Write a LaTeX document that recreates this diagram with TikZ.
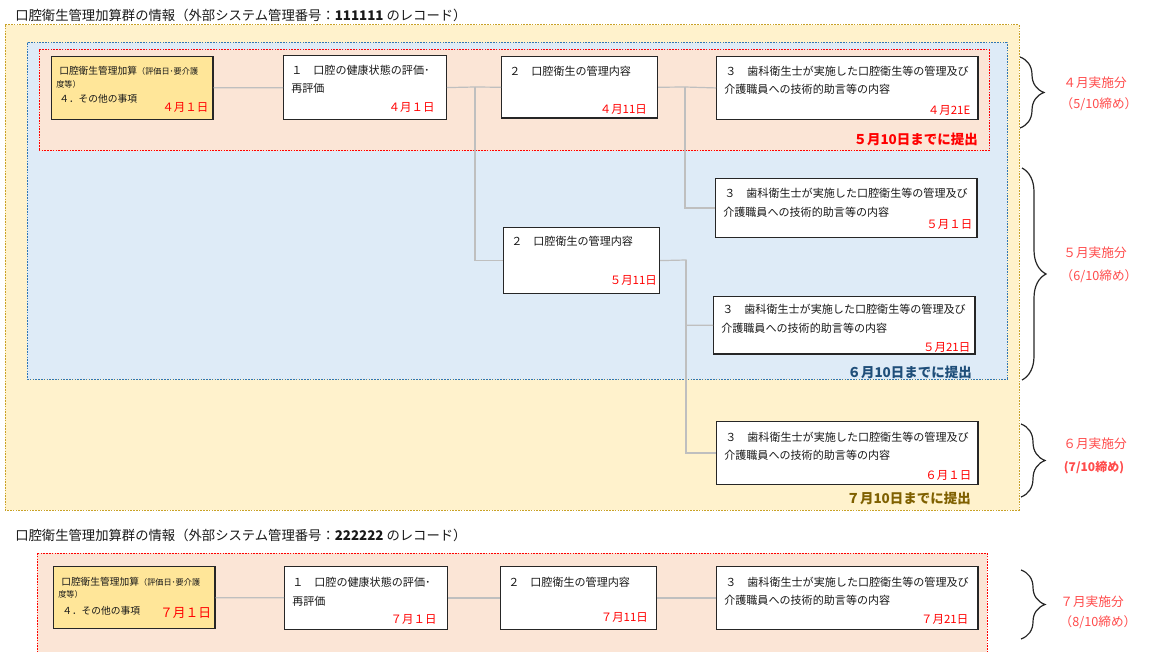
\documentclass[tikz,border=0pt]{standalone}
\usepackage{fontspec}
\setmainfont{Noto Sans CJK JP}
\usetikzlibrary{decorations.pathreplacing}
\definecolor{zoneY}{HTML}{FFF2CC}
\definecolor{zoneYd}{HTML}{C9A227}
\definecolor{zoneB}{HTML}{DEEBF7}
\definecolor{zoneBd}{HTML}{2E75B6}
\definecolor{zoneR}{HTML}{FBE5D6}
\definecolor{headY}{HTML}{FFE699}
\definecolor{lineG}{HTML}{BFBFBF}
\definecolor{dueB}{HTML}{1F4E79}
\definecolor{dueY}{HTML}{7F6000}
\definecolor{monR}{HTML}{FF4B4B}

\begin{document}
\begin{tikzpicture}[x=0.75pt,y=-0.75pt]
		\tikzset{zone/.style={line width=0.75pt, dash pattern=on 1.2pt off 0.9pt},
			rec/.style={draw=black!85, fill=white, line width=0.9pt, anchor=north west, inner sep=0pt, minimum height=47pt},
			head/.style={rec, fill=headY, minimum width=121pt},
			w1/.style={minimum width=122pt},
			w2/.style={minimum width=117pt},
			w3/.style={minimum width=196pt},
			txt/.style={anchor=west, inner sep=0pt, text=black!90, font=\fontsize{8.3}{10}\selectfont},
			htxt/.style={txt, font=\fontsize{7.3}{9}\selectfont},
			tiny/.style={txt, font=\fontsize{6.1}{7}\selectfont},
			date/.style={anchor=east, inner sep=0pt, text=red, font=\fontsize{8.6}{10}\selectfont},
			due/.style={anchor=east, inner sep=0pt, font=\bfseries\fontsize{10.1}{12}\selectfont},
			month/.style={inner sep=0pt, text=monR, font=\fontsize{9.5}{12}\selectfont},
			title/.style={anchor=west, inner sep=0pt, text=black!90, font=\fontsize{10}{12}\selectfont},
			link/.style={draw=lineG, line width=0.9pt},
			brc/.style={decorate, decoration={brace, amplitude=18pt}, line width=0.9pt, draw=black!85}}
		\useasboundingbox (0,0) rectangle (1149,652);
		%zones
		\draw[zone, draw=zoneYd, fill=zoneY] (5,25) rectangle (1019,510);
		\draw[zone, draw=zoneBd, fill=zoneB] (27,43) rectangle (1007,379);
		\draw[zone, draw=red, fill=zoneR] (39,50) rectangle (989,151);
		\draw[zone, draw=red, fill=zoneR] (37,553) rectangle (987,664);
		%titles
		\node[title] (t1) at (15,15) {口腔衛生管理加算群の情報（外部システム管理番号：\textbf{111111} のレコード）};
		\node[title] (t2) at (15,535) {口腔衛生管理加算群の情報（外部システム管理番号：\textbf{222222} のレコード）};
		%boxes
		\node[head] (bA) at (51,56) {};
		\node[rec, w1, minimum height=48pt] (b1) at (283,55) {};
		\node[rec, w2, minimum height=46pt] (b2a) at (501,56) {};
		\node[rec, w3] (b3a) at (716,56) {};
		\node[rec, w3, minimum height=44pt] (b3b) at (715,178) {};
		\node[rec, w2, minimum height=49.5pt] (b2b) at (503,227) {};
		\node[rec, w3, minimum height=43pt] (b3c) at (713,296) {};
		\node[rec, w3] (b3d) at (716,421) {};
		\node[head, minimum height=46.5pt] (bA2) at (53,566) {};
		\node[rec, w1] (c1) at (284,566) {};
		\node[rec, w2] (c2) at (500,566) {};
		\node[rec, w3] (c3) at (716,566) {};
		%texts
		\node[htxt] at ([shift={(8,15)}]bA.north west) {口腔衛生管理加算{\fontsize{6.1}{7}\selectfont（評価日･要介護}};
		\node[tiny] at ([shift={(5,28)}]bA.north west) {度等）};
		\node[htxt] at ([shift={(8,43)}]bA.north west) {４．その他の事項};
		\node[date] at ([shift={(-5,51)}]bA.north east) {４月１日};
		\node[txt] at ([shift={(8,15)}]b1.north west) {１　口腔の健康状態の評価･};
		\node[txt] at ([shift={(8,33)}]b1.north west) {再評価};
		\node[date] at ([shift={(-12,52)}]b1.north east) {４月１日};
		\node[txt] at ([shift={(8,15)}]b2a.north west) {２　口腔衛生の管理内容};
		\node[date] at ([shift={(-11,53)}]b2a.north east) {４月11日};
		\node[txt] at ([shift={(9,15)}]b3a.north west) {３　歯科衛生士が実施した口腔衛生等の管理及び};
		\node[txt] at ([shift={(8,33)}]b3a.north west) {介護職員への技術的助言等の内容};
		\node[date] at ([shift={(-8,54)}]b3a.north east) {４月21E};
		\node[txt] at ([shift={(9,15)}]b3b.north west) {３　歯科衛生士が実施した口腔衛生等の管理及び};
		\node[txt] at ([shift={(8,34)}]b3b.north west) {介護職員への技術的助言等の内容};
		\node[date] at ([shift={(-5,46)}]b3b.north east) {５月１日};
		\node[txt] at ([shift={(8,14)}]b2b.north west) {２　口腔衛生の管理内容};
		\node[date] at ([shift={(-3,53)}]b2b.north east) {５月11日};
		\node[txt] at ([shift={(9,13)}]b3c.north west) {３　歯科衛生士が実施した口腔衛生等の管理及び};
		\node[txt] at ([shift={(8,32)}]b3c.north west) {介護職員への技術的助言等の内容};
		\node[date] at ([shift={(-5,51)}]b3c.north east) {５月21日};
		\node[txt] at ([shift={(9,16)}]b3d.north west) {３　歯科衛生士が実施した口腔衛生等の管理及び};
		\node[txt] at ([shift={(8,34)}]b3d.north west) {介護職員への技術的助言等の内容};
		\node[date] at ([shift={(-7,54)}]b3d.north east) {６月１日};
		\node[htxt] at ([shift={(8,16)}]bA2.north west) {口腔衛生管理加算{\fontsize{6.1}{7}\selectfont（評価日･要介護}};
		\node[tiny] at ([shift={(5,28)}]bA2.north west) {度等）};
		\node[htxt] at ([shift={(9,45)}]bA2.north west) {４．その他の事項};
		\node[date, font=\fontsize{9.6}{12}\selectfont] at ([shift={(-4,47)}]bA2.north east) {７月１日};
		\node[txt] at ([shift={(8,16)}]c1.north west) {１　口腔の健康状態の評価･};
		\node[txt] at ([shift={(8,35)}]c1.north west) {再評価};
		\node[date] at ([shift={(-11,53)}]c1.north east) {７月１日};
		\node[txt] at ([shift={(8,16)}]c2.north west) {２　口腔衛生の管理内容};
		\node[date] at ([shift={(-9,51)}]c2.north east) {７月11日};
		\node[txt] at ([shift={(9,16)}]c3.north west) {３　歯科衛生士が実施した口腔衛生等の管理及び};
		\node[txt] at ([shift={(8,34)}]c3.north west) {介護職員への技術的助言等の内容};
		\node[date] at ([shift={(-10,53)}]c3.north east) {７月21日};
		%deadlines
		\node[due, text=red] (d1) at (978,139) {５月10日までに提出};
		\node[due, text=dueB] (d2) at (972,372) {６月10日までに提出};
		\node[due, text=dueY] (d3) at (971,498) {７月10日までに提出};
		%edges
		\coordinate (j1) at (475,87);
		\coordinate (j2) at (685,87);
		\coordinate (j3) at (686,260);
		\draw[link] (bA) -- (b1);
		\draw[link] (b1.east) -- (j1) -- (b2a.west);
		\draw[link] (j1) |- (b2b.west);
		\draw[link] (b2a.east) -- (j2) -- (b3a.west);
		\draw[link] (j2) |- (b3b.west);
		\draw[link] (b2b.east) -- (j3) |- (b3c.west);
		\draw[link] (j3) |- (b3d.west);
		\draw[link] (bA2) -- (c1);
		\draw[link] (c1) -- (c2);
		\draw[link] (c2) -- (c3);
		%braces
		\coordinate (r1a) at (1020,57);
		\coordinate (r1b) at (1020,128);
		\coordinate (r2a) at (1022,168);
		\coordinate (r2b) at (1022,380);
		\coordinate (r3a) at (1021,424);
		\coordinate (r3b) at (1021,497);
		\coordinate (r4a) at (1021,570);
		\coordinate (r4b) at (1021,639);
		\draw[brc] (r1a) -- (r1b);
		\draw[brc] (r2a) -- (r2b);
		\draw[brc] (r3a) -- (r3b);
		\draw[brc] (r4a) -- (r4b);
		\node[month] (m1) at (1095,83) {４月実施分};
		\node[month] (n1) at (1099,104) {（5/10締め）};
		\node[month] (m2) at (1095,253) {５月実施分};
		\node[month] (n2) at (1099,276) {（6/10締め）};
		\node[month] (m3) at (1095,444) {６月実施分};
		\node[month, font=\bfseries\fontsize{9}{12}\selectfont] (n3) at (1094,468) {(7/10締め)};
		\node[month] (m4) at (1092,602) {７月実施分};
		\node[month] (n4) at (1098,622) {（8/10締め）};
\end{tikzpicture}
\end{document}
